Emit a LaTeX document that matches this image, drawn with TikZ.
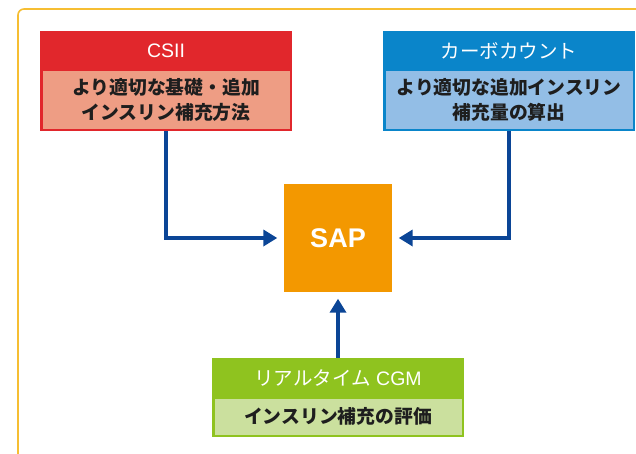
\documentclass[tikz,border=0pt]{standalone}
\usepackage{fontspec}
\setmainfont{Liberation Sans}
\newfontfamily\jp{Noto Sans CJK JP}
\usetikzlibrary{arrows.meta}
\definecolor{frame}{HTML}{F6BE32}
\definecolor{redh}{HTML}{E1272C}
\definecolor{redb}{HTML}{EE9D84}
\definecolor{blueh}{HTML}{0A85CA}
\definecolor{blueb}{HTML}{93BEE6}
\definecolor{greenh}{HTML}{8FC31F}
\definecolor{greenb}{HTML}{CBE09E}
\definecolor{sapc}{HTML}{F39800}
\definecolor{arrc}{HTML}{0B4596}
\definecolor{txt}{HTML}{1E1E1E}
\tikzset{
  outerbox/.style={rectangle, inner sep=0pt, minimum width=252pt, fill=#1},
  hdrtext/.style={inner sep=0pt, text=white, font=\fontsize{19.5}{22}\selectfont},
  bodybox/.style={rectangle, inner sep=0pt, minimum width=247pt, fill=#1, align=center, text=txt,
    font=\jp\bfseries\fontsize{18.8}{25}\selectfont},
  arr/.style={draw=arrc, line width=4.5pt, -{Triangle[length=14pt,width=16pt]}, shorten >=6.5pt}
}
\begin{document}
\begin{tikzpicture}[x=1pt,y=-1pt]
\useasboundingbox (0,0) rectangle (636,453);
\clip (0,0) rectangle (636,453);
\draw[frame, line width=1.6pt, rounded corners=6pt] (18,9) rectangle (700,520);

% CSII
\node[outerbox=redh, minimum height=100pt] (csii) at (166,81) {};
\node[hdrtext] (csiih) at (166,51) {CSII};
\node[bodybox=redb, minimum height=57.5pt] (csiib) at (166,99.75) {より適切な基礎・追加\\インスリン補充方法};

% Carb count
\node[outerbox=blueh, minimum height=100pt] (carb) at (509,81) {};
\node[hdrtext] (carbh) at (509,51) {\jp カーボカウント};
\node[bodybox=blueb, minimum height=57.5pt] (carbb) at (509,99.75) {より適切な追加インスリン\\補充量の算出};

% SAP
\node[rectangle, fill=sapc, minimum width=108pt, minimum height=108pt, inner sep=0pt,
  text=white, font=\bfseries\fontsize{27}{30}\selectfont] (sap) at (338,238) {SAP};

% CGM
\node[outerbox=greenh, minimum height=79pt] (cgm) at (338,397.5) {};
\node[hdrtext] (cgmh) at (338,378) {{\jp リアルタイム} CGM};
\node[bodybox=greenb, minimum height=36pt] (cgmb) at (338,416.5) {インスリン補充の評価};

% connectors
\draw[arr] (csii.south) |- (sap.west);
\draw[arr] (carb.south) |- (sap.east);
\draw[arr] (cgm.north) -- (sap.south);
\end{tikzpicture}
\end{document}
